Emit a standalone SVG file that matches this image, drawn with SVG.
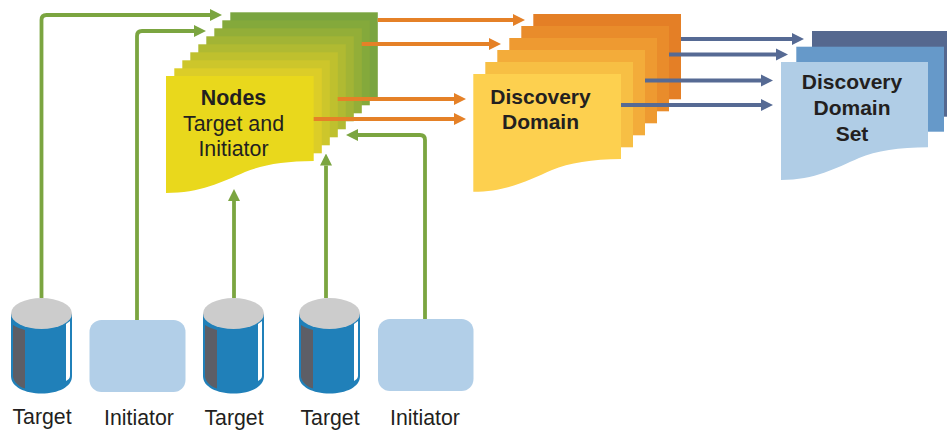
<svg xmlns="http://www.w3.org/2000/svg" width="947" height="430" viewBox="0 0 947 430">
<style>
text{font-family:"Liberation Sans",Arial,sans-serif;fill:#231f20;text-anchor:middle}
.l{font-size:21.3px}
.n{font-size:21.4px}
.nb{font-size:21.4px;font-weight:bold}
.b{font-size:21px;font-weight:bold}
.c{fill:none;stroke-width:3.8}
.g{stroke:#7ba540}
.o{stroke:#e58127}
.s{stroke:#566a94}
.body{fill:#2080b9}
.top{fill:#cccccc}
.dark{fill:#5d5e66}
.hi{fill:#ffffff}
.init{fill:#b2cfe8}
</style>
<defs>
<marker id="ag" markerUnits="userSpaceOnUse" markerWidth="12" markerHeight="13" refX="0" refY="6.5" orient="auto"><path d="M0,0.5L12,6.5L0,12.5Z" fill="#7ba540"/></marker>
<marker id="ao" markerUnits="userSpaceOnUse" markerWidth="12" markerHeight="13" refX="0" refY="6.5" orient="auto"><path d="M0,0.5L12,6.5L0,12.5Z" fill="#e58127"/></marker>
<marker id="as" markerUnits="userSpaceOnUse" markerWidth="12" markerHeight="13" refX="0" refY="6.5" orient="auto"><path d="M0,0.5L12,6.5L0,12.5Z" fill="#566a94"/></marker>
<g id="cyl">
<path class="body" d="M11,314V376C11,387 25,393.500 41.500,393.500C58,393.500 72,387 72,376V314Z"/>
<path class="dark" d="M13,325C16,327 21,329 25,330V388.500C19,387 14,382 13,377Z"/>
<path class="hi" d="M66,324L70,321V376C70,378 68,380 66,381Z"/>
<ellipse class="top" cx="41.500" cy="313.500" rx="30.500" ry="15.500"/>
</g>
</defs>
<g id="node-nodes">
<rect x="230.300" y="12.300" width="147.500" height="85" fill="#7aa540"/>
<rect x="222.300" y="20.300" width="147.500" height="85" fill="#84a93b"/>
<rect x="214.300" y="28.300" width="147.500" height="85" fill="#93ae38"/>
<rect x="206.300" y="36.300" width="147.500" height="85" fill="#a2b435"/>
<rect x="198.300" y="44.300" width="147.500" height="85" fill="#b0ba32"/>
<rect x="190.300" y="52.300" width="147.500" height="85" fill="#bfc02e"/>
<rect x="182.300" y="60.300" width="147.500" height="85" fill="#cdc62b"/>
<rect x="174.300" y="68.300" width="147.500" height="85" fill="#dccd28"/>
<path d="M166,76H313.700V161C285,161 262,165 245,172C222,182 200,193 166,193Z" fill="#e9d81c"/>
<text class="nb" x="233.500" y="105">Nodes</text>
<text class="n" x="233.500" y="131">Target and</text>
<text class="n" x="233.500" y="155.500">Initiator</text>
</g>
<g id="node-discovery-domain">
<rect x="533.300" y="14" width="147.700" height="85.300" fill="#e47f26"/>
<rect x="521.300" y="26" width="147.700" height="85.300" fill="#e98c2b"/>
<rect x="509.300" y="38" width="147.700" height="85.300" fill="#ee9a31"/>
<rect x="497.300" y="50" width="147.700" height="85.300" fill="#f3ac3a"/>
<rect x="485.300" y="62" width="147.700" height="85.300" fill="#f7bf44"/>
<path d="M473.300,74H621V159C592,159 569,163 552,170C529,180 507,191.700 473.300,191.700Z" fill="#fdd04f"/>
<text class="b" x="540.500" y="104">Discovery</text>
<text class="b" x="540.500" y="129">Domain</text>
</g>
<g id="node-discovery-domain-set">
<rect x="812" y="31" width="135" height="85.700" fill="#55688f"/>
<rect x="796.300" y="46.700" width="147.700" height="85" fill="#6699c9"/>
<path d="M781,62H928V147.300C899,147.300 876,151 859,158C836,168 815,180 781,180Z" fill="#b0cde6"/>
<text class="b" x="852" y="89">Discovery</text>
<text class="b" x="852" y="115">Domain</text>
<text class="b" x="852" y="141">Set</text>
</g>
<g id="node-target-1">
<use href="#cyl"/>
<text class="l" x="42" y="424">Target</text>
</g>
<g id="node-initiator-1">
<rect class="init" x="89.500" y="320" width="96" height="72" rx="12"/>
<text class="l" x="139" y="425">Initiator</text>
</g>
<g id="node-target-2">
<use href="#cyl" x="192"/>
<text class="l" x="234" y="425">Target</text>
</g>
<g id="node-target-3">
<use href="#cyl" x="288"/>
<text class="l" x="330" y="425">Target</text>
</g>
<g id="node-initiator-2">
<rect class="init" x="378" y="319" width="95.500" height="72" rx="12"/>
<text class="l" x="425" y="425">Initiator</text>
</g>
<g id="connectors">
<path class="c g" marker-end="url(#ag)" d="M41.500,298V20Q41.500,15 46.500,15H210"/>
<path class="c g" marker-end="url(#ag)" d="M137,320V36Q137,31 142,31H194"/>
<path class="c g" marker-end="url(#ag)" d="M234,298V201"/>
<path class="c g" marker-end="url(#ag)" d="M326,298V165.500"/>
<path class="c g" marker-end="url(#ag)" d="M425,319V140Q425,135 420,135H358"/>
<path class="c o" marker-end="url(#ao)" d="M377.700,20H513"/>
<path class="c o" marker-end="url(#ao)" d="M361.700,44H489"/>
<path class="c o" marker-end="url(#ao)" d="M337.700,99H454"/>
<path class="c o" marker-end="url(#ao)" d="M313.700,119H454"/>
<path class="c s" marker-end="url(#as)" d="M681,39H792"/>
<path class="c s" marker-end="url(#as)" d="M669,54.500H776"/>
<path class="c s" marker-end="url(#as)" d="M645,80.500H761"/>
<path class="c s" marker-end="url(#as)" d="M621,105H761"/>
</g>
</svg>
